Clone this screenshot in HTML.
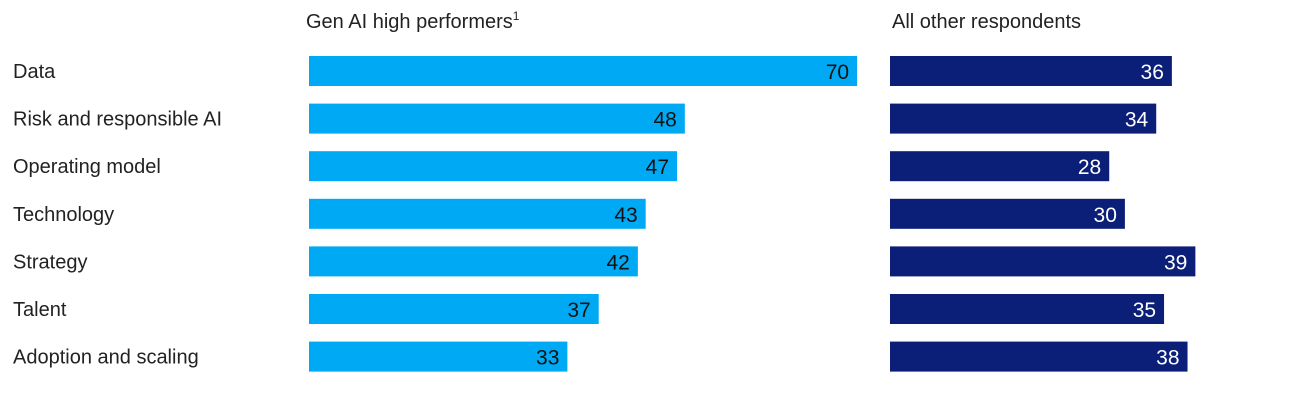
<!DOCTYPE html>
<html><head><meta charset="utf-8"><style>
body{margin:0;background:#fff;}
svg{display:block;font-family:"Liberation Sans",sans-serif;}
</style></head><body>
<svg width="1305" height="400" xmlns="http://www.w3.org/2000/svg">
<text x="306" y="28" font-size="20" fill="#222">Gen AI high performers<tspan font-size="12" dy="-8">1</tspan></text>
<text x="892" y="28" font-size="20" fill="#222">All other respondents</text>
<g id="g"></g>
</svg>
<script>
const categories=["Data","Risk and responsible AI","Operating model","Technology","Strategy","Talent","Adoption and scaling"];
const highPerformers=[70,48,47,43,42,37,33];
const otherRespondents=[36,34,28,30,39,35,38];
const scale=v=>v*7.83;
const rowY=i=>56+i*47.6;
const g=document.getElementById('g');
const NS='http://www.w3.org/2000/svg';
function mk(t,a){const e=document.createElementNS(NS,t);for(const k in a)e.setAttribute(k,a[k]);g.appendChild(e);return e;}
categories.forEach((c,i)=>{
  const y=rowY(i);
  const l=mk('text',{x:13,y:y+22,'font-size':20,fill:'#222'});l.textContent=c;
  
  
  const b1=mk('rect',{x:309,y:y,width:scale(highPerformers[i]),height:30,fill:'#00a9f4'});
  
  
  const t1=mk('text',{x:309+scale(highPerformers[i])-8,y:y+23,'font-size':21,fill:'#111','text-anchor':'end'});t1.textContent=highPerformers[i];
  
  
  const b2=mk('rect',{x:890,y:y,width:scale(otherRespondents[i]),height:30,fill:'#0b1f78'});
  
  
  const t2=mk('text',{x:890+scale(otherRespondents[i])-8,y:y+23,'font-size':21,fill:'#fff','text-anchor':'end'});t2.textContent=otherRespondents[i];
  
  
});
</script>
</body></html>
